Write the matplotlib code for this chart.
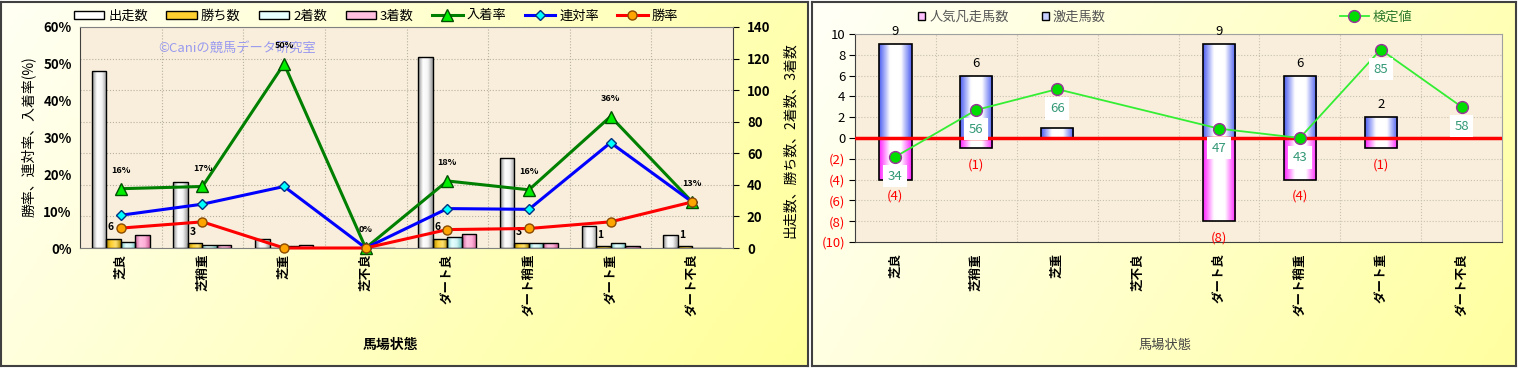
import numpy as np
import matplotlib
matplotlib.use('Agg')
import matplotlib.pyplot as plt
from matplotlib.colors import LinearSegmentedColormap
from matplotlib.patches import Patch

plt.rcParams['font.family'] = ['Noto Sans CJK JP', 'DejaVu Sans']

# ---- data ----
categories = ['芝良', '芝稍重', '芝重', '芝不良', 'ダート良', 'ダート稍重', 'ダート重', 'ダート不良']

# left chart: counts (right axis) and rates in % (left axis)
starts = [112, 42, 6, 0, 121, 57, 14, 8]
wins = [6, 3, 0, 0, 6, 3, 1, 1]
seconds = [4, 2, 1, 0, 7, 3, 3, 0]
thirds = [8, 2, 2, 0, 9, 3, 1, 0]
win_rate = [5.4, 7.1, 0.0, 0.0, 5.0, 5.3, 7.1, 12.5]
rentai_rate = [8.9, 11.9, 16.7, 0.0, 10.7, 10.5, 28.6, 12.5]
place_rate = [16.1, 16.7, 50.0, 0.0, 18.2, 15.8, 35.7, 12.5]

# right chart
gekisou = [9, 6, 1, 0, 9, 6, 2, 0]
bonsou = [4, 1, 0, 0, 8, 4, 1, 0]
kentei_pos = [-1.8, 2.7, 4.7, np.nan, 0.9, 0.0, 8.5, 3.0]
kentei_label = [34, 56, 66, None, 47, 43, 85, 58]

W, H = 1518, 369


def px(x0, y0, x1, y1):
    return [x0 / W, 1 - y1 / H, (x1 - x0) / W, (y1 - y0) / H]


def shade_bars(ax, bars, colors):
    cmap = LinearSegmentedColormap.from_list('g', colors)
    grad = np.linspace(0, 1, 64).reshape(1, -1)
    for b in bars:
        x0, y0 = b.get_x(), b.get_y()
        w, h = b.get_width(), b.get_height()
        if h == 0:
            continue
        im = ax.imshow(grad, cmap=cmap, aspect='auto', interpolation='bicubic',
                       extent=(x0, x0 + w, y0, y0 + h), zorder=b.get_zorder() - 0.1)
        im.set_clip_path(b)


def panel(rect, c0, c1, flip=False):
    bg = fig.add_axes(px(*rect), zorder=-5)
    xx, yy = np.meshgrid(np.linspace(0, 1, 200), np.linspace(0, 1, 60))
    g = 0.75 * xx + 0.25 * yy
    if flip:
        g = 1 - g
    cmap = LinearSegmentedColormap.from_list('p', [c0, c1])
    bg.imshow(g, cmap=cmap, aspect='auto', extent=(0, 1, 0, 1), origin='upper')
    bg.set_xticks([])
    bg.set_yticks([])
    for s in bg.spines.values():
        s.set_color('#404040')
        s.set_linewidth(1.5)


fig = plt.figure(figsize=(W / 100, H / 100), dpi=100)
fig.patch.set_facecolor('white')

panel((1, 2, 808, 366), '#fffff4', '#ffff99')
panel((812, 2, 1516, 366), '#ffffa0', '#fffff8', flip=True)

x = np.arange(len(categories))

# ================= left chart =================
axb = fig.add_axes(px(80, 27, 733, 248))
axb.set_facecolor('#f8eedb')
bw = 0.178
series = [
    (starts, ['#8c8c8c', '#ffffff', '#f4f4f4', '#9a9a9a'], '出走数'),
    (wins, ['#b08800', '#ffd030', '#ffe070', '#b08800'], '勝ち数'),
    (seconds, ['#70c0c0', '#e8ffff', '#d0f4f4', '#70c0c0'], '2着数'),
    (thirds, ['#d0609a', '#ffc0e0', '#ffb0d8', '#d0609a'], '3着数'),
]
bar_groups = []
for i, (vals, cols, lab) in enumerate(series):
    bars = axb.bar(x + (i - 1.5) * bw, vals, bw, facecolor='none',
                   edgecolor='black', linewidth=1, zorder=3)
    shade_bars(axb, bars, cols)
    bar_groups.append(bars)

for b, v in zip(bar_groups[1], wins):
    if v:
        axb.annotate(str(v), (b.get_x() + b.get_width() / 2, v), xytext=(-2, 8),
                     textcoords='offset points', ha='center', va='center',
                     fontsize=7.5, fontweight='bold', zorder=6)

axb.set_xlim(-0.5, len(categories) - 0.5)
axb.set_ylim(0, 140)
axb.set_xticks(x)
axb.set_xticklabels(categories, rotation=90, va='top', fontsize=9, fontweight='bold')
axb.tick_params(axis='x', length=0, pad=4)
axb.set_xticks(np.arange(0.5, len(categories) - 0.5), minor=True)
axb.tick_params(axis='x', which='minor', length=0)
axb.grid(True, which='minor', axis='x', color='#b8b0a0', linestyle=':', linewidth=0.8)
axb.grid(True, which='major', axis='y', color='#b8b0a0', linestyle=':', linewidth=0.8)
axb.set_axisbelow(True)
for s in ['top', 'bottom']:
    axb.spines[s].set_color('#808080')
axb.spines['left'].set_color('#404040')
axb.spines['right'].set_color('#404040')

axl = axb.twinx()
# twinx moves the original ticks to the left, so put them back on the right
axb.yaxis.tick_right()
axb.set_yticks(range(0, 141, 20))
axb.set_yticklabels([str(v) for v in range(0, 141, 20)], fontsize=9.5, fontweight='bold')
axb.tick_params(axis='y', length=4, direction='out', pad=6)
axb.yaxis.set_ticks_position('right')

axl.yaxis.tick_left()
axl.set_ylim(0, 60)
axl.set_yticks(range(0, 61, 10))
axl.set_yticklabels([f'{v}%' for v in range(0, 61, 10)], fontsize=9.5, fontweight='bold')
axl.tick_params(axis='y', length=0, pad=6)
axl.plot(x, place_rate, color='#008000', lw=2.2, marker='^', ms=8,
         mfc='#00ee00', mec='#005000', clip_on=False, zorder=5, label='入着率')
axl.plot(x, rentai_rate, color='#0000ff', lw=2.2, marker='D', ms=5.5,
         mfc='#00ffff', mec='#003080', clip_on=False, zorder=5, label='連対率')
axl.plot(x, win_rate, color='#ff0000', lw=2.2, marker='o', ms=6.5,
         mfc='#ffa500', mec='#8a4a00', clip_on=False, zorder=5, label='勝率')
for xi, v in zip(x, place_rate):
    axl.annotate(f'{int(v + 0.5)}%', (xi, v), xytext=(0, 13), textcoords='offset points',
                 ha='center', va='center', fontsize=6.5, fontweight='bold', zorder=6)
for s in axl.spines.values():
    s.set_visible(False)
axl.set_xlim(-0.5, len(categories) - 0.5)

axl.text(0.24, 0.905, '©Caniの競馬データ研究室', transform=axl.transAxes,
         ha='center', va='center', fontsize=9.5, color='#9a9af0', zorder=1)

fig.text(28 / W, 1 - 137 / H, '勝率、連対率、入着率(%)', rotation=90,
         ha='center', va='center', fontsize=10)
fig.text(790 / W, 1 - 140 / H, '出走数、勝ち数、2着数、3着数', rotation=90,
         ha='center', va='center', fontsize=10)
fig.text(390 / W, 1 - 345 / H, '馬場状態', ha='center', va='center',
         fontsize=10, fontweight='bold')

leg_handles = [Patch(facecolor=c[1][1], edgecolor='black', label=c[2]) for c in series]
leg_handles += axl.get_lines()
fig.legend(handles=leg_handles, loc='center', bbox_to_anchor=(376 / W, 1 - 16 / H),
           ncol=7, frameon=False, fontsize=9.5, handlelength=2.3, handleheight=0.55,
           columnspacing=1.4, handletextpad=0.3)

# ================= right chart =================
axr = fig.add_axes(px(855, 34, 1502, 242))
axr.set_facecolor('#f8eedb')
rw = 0.40
blue_bars = axr.bar(x, gekisou, rw, facecolor='none', edgecolor='black', lw=1.2, zorder=3)
shade_bars(axr, blue_bars, ['#4c5ef0', '#ffffff', '#ffffff', '#4c5ef0'])
neg = [-v for v in bonsou]
pink_bars = axr.bar(x, neg, rw, facecolor='none', edgecolor='black', lw=1.2, zorder=3)
shade_bars(axr, pink_bars, ['#ff22ff', '#ffffff', '#ffffff', '#ff22ff'])
axr.axhline(0, color='#ff0000', lw=2.5, zorder=4)

for xi, v in zip(x, gekisou):
    if v:
        axr.annotate(str(v), (xi, v), xytext=(0, 9), textcoords='offset points',
                     ha='center', va='center', fontsize=9.5, zorder=5)
for xi, v in zip(x, bonsou):
    if v:
        axr.annotate(f'({v})', (xi, -v), xytext=(0, -12), textcoords='offset points',
                     ha='center', va='center', fontsize=9.5, color='#ff0000', zorder=5)

kx = [xi for xi, v in zip(x, kentei_pos) if not np.isnan(v)]
ky = [v for v in kentei_pos if not np.isnan(v)]
kl = [v for v in kentei_label if v is not None]
axr.plot(kx, ky, color='#33ee33', lw=1.3, marker='o', ms=8.5, mfc='#00dd00',
         mec='#993399', mew=1, zorder=6, label='検定値')
for xi, v, lab in zip(kx, ky, kl):
    axr.annotate(str(lab), (xi, v), xytext=(0, -14), textcoords='offset points',
                 ha='center', va='center', fontsize=9.5, color='#339977', zorder=7,
                 bbox=dict(boxstyle='square,pad=0.35', fc='white', ec='none'))

axr.set_xlim(-0.5, len(categories) - 0.5)
axr.set_ylim(-10, 10)
yt = list(range(-10, 11, 2))
axr.set_yticks(yt)
axr.set_yticklabels([str(v) if v >= 0 else f'({-v})' for v in yt], fontsize=9.5)
for t, v in zip(axr.get_yticklabels(), yt):
    if v < 0:
        t.set_color('#ff0000')
axr.tick_params(axis='y', length=4, direction='out', pad=3)
axr.set_xticks(x)
axr.set_xticklabels(categories, rotation=90, va='top', fontsize=9, fontweight='bold')
axr.tick_params(axis='x', length=0, pad=8)
axr.set_xticks(np.arange(0.5, len(categories) - 0.5), minor=True)
axr.tick_params(axis='x', which='minor', length=0)
axr.grid(True, which='minor', axis='x', color='#c8c0b0', linestyle=':', linewidth=0.8)
axr.grid(True, which='major', axis='y', color='#c8c0b0', linestyle=':', linewidth=0.8)
axr.set_axisbelow(True)
for s in ['top', 'right']:
    axr.spines[s].set_color('#a0a0a0')
axr.spines['left'].set_color('#404040')
axr.spines['bottom'].set_color('#404040')

fig.text(1165 / W, 1 - 345 / H, '馬場状態', ha='center', va='center',
         fontsize=9.5, color='#444444')

fig.legend(handles=[Patch(facecolor='#ffc0ff', edgecolor='black', label='人気凡走馬数'),
                    Patch(facecolor='#c8d0ff', edgecolor='black', label='激走馬数')],
           loc='center', bbox_to_anchor=(1012 / W, 1 - 17 / H), ncol=2, frameon=False,
           fontsize=9.5, handlelength=0.55, handleheight=0.55, columnspacing=2.5,
           handletextpad=0.3, labelcolor='#555555')
fig.legend(handles=axr.get_lines()[1:], loc='center', bbox_to_anchor=(1376 / W, 1 - 17 / H),
           frameon=False, fontsize=9.5, handlelength=2.2, handletextpad=0.3,
           labelcolor='#2d7a2d')

fig.savefig('out.png', dpi=100)
